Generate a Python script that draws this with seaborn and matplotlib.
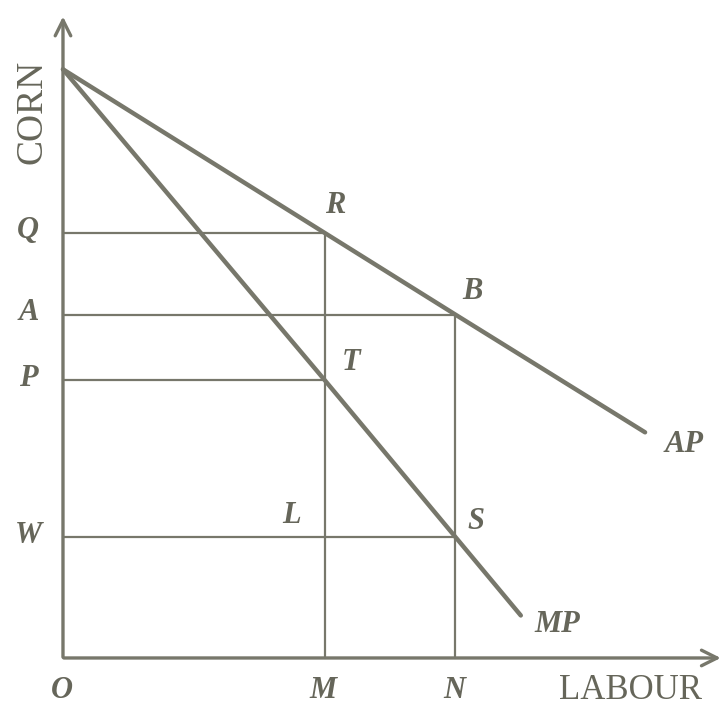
import matplotlib
matplotlib.use("Agg")
import matplotlib.pyplot as plt
import seaborn as sns
import pandas as pd

# labour quantities
labour_pts = [0, 4, 6]
x_labels = ["O", "M", "N"]

# average product curve (AP) and marginal product curve (MP)
ap_x = [0, 4, 6, 8.9]
ap_y = [9.0, 6.5, 5.25, 3.45]
mp_x = [0, 4, 6, 7.0]
mp_y = [9.0, 4.25, 1.85, 0.65]

# corn levels marked on the vertical axis
y_levels = [6.5, 5.25, 4.25, 1.85]
y_labels = ["Q", "A", "P", "W"]
y_line_ends = [4, 6, 4, 6]

# points on curves
pt_names = ["R", "B", "T", "S", "L"]
pt_x = [4, 6, 4, 6, 4]
pt_y = [6.5, 5.25, 4.25, 1.85, 1.85]

ink = "#77776b"
txt = "#66665a"

sns.set_style("white")
plt.rcParams["font.family"] = ["Liberation Serif", "DejaVu Serif"]

fig = plt.figure(figsize=(7.24, 7.05), dpi=100)
ax = fig.add_axes([0, 0, 1, 1])
ax.set_xlim(-0.963, 10.107)
ax.set_ylim(-0.719, 10.06)
ax.axis("off")

df = pd.DataFrame({
    "labour": ap_x + mp_x,
    "corn": ap_y + mp_y,
    "curve": ["AP"] * len(ap_x) + ["MP"] * len(mp_x),
})
sns.lineplot(data=df, x="labour", y="corn", hue="curve", palette=[ink, ink],
             linewidth=3.2, legend=False, ax=ax, solid_capstyle="round")

# guide lines
for lev, end in zip(y_levels, y_line_ends):
    ax.plot([0, end], [lev, lev], color=ink, lw=1.6)
ax.plot([4, 4], [0, 6.5], color=ink, lw=1.6)
ax.plot([6, 6], [0, 5.25], color=ink, lw=1.6)

# axes with arrows
ax.annotate("", xy=(0, 9.85), xytext=(0, -0.03),
            arrowprops=dict(arrowstyle="->", color=ink, lw=2.4, mutation_scale=28))
ax.annotate("", xy=(10.1, 0), xytext=(-0.03, 0),
            arrowprops=dict(arrowstyle="->", color=ink, lw=2.4, mutation_scale=28))

lab = dict(color=txt, fontsize=22, fontstyle="italic", fontweight="bold",
           ha="center", va="center")

for lev, name in zip(y_levels, y_labels):
    ax.text(-0.53, lev + 0.03, name, **lab)

offsets = {"R": (0.17, 0.42), "B": (0.26, 0.35), "T": (0.41, 0.26),
           "S": (0.31, 0.23), "L": (-0.5, 0.33)}
for name, px, py in zip(pt_names, pt_x, pt_y):
    dx, dy = offsets[name]
    ax.text(px + dx, py + dy, name, **lab)

ax.text(ap_x[-1] + 0.6, ap_y[-1] - 0.18, "AP", **lab)
ax.text(mp_x[-1] + 0.56, mp_y[-1] - 0.14, "MP", **lab)

for xp, name in zip(labour_pts, x_labels):
    ax.text(xp - 0.02, -0.49, name, **lab)

ax.text(8.68, -0.49, "LABOUR", color=txt, fontsize=25, ha="center", va="center")
ax.text(-0.47, 8.35, "CORN", color=txt, fontsize=27, rotation=90, ha="center", va="center")

fig.savefig("out.png", dpi=100, facecolor="white")
